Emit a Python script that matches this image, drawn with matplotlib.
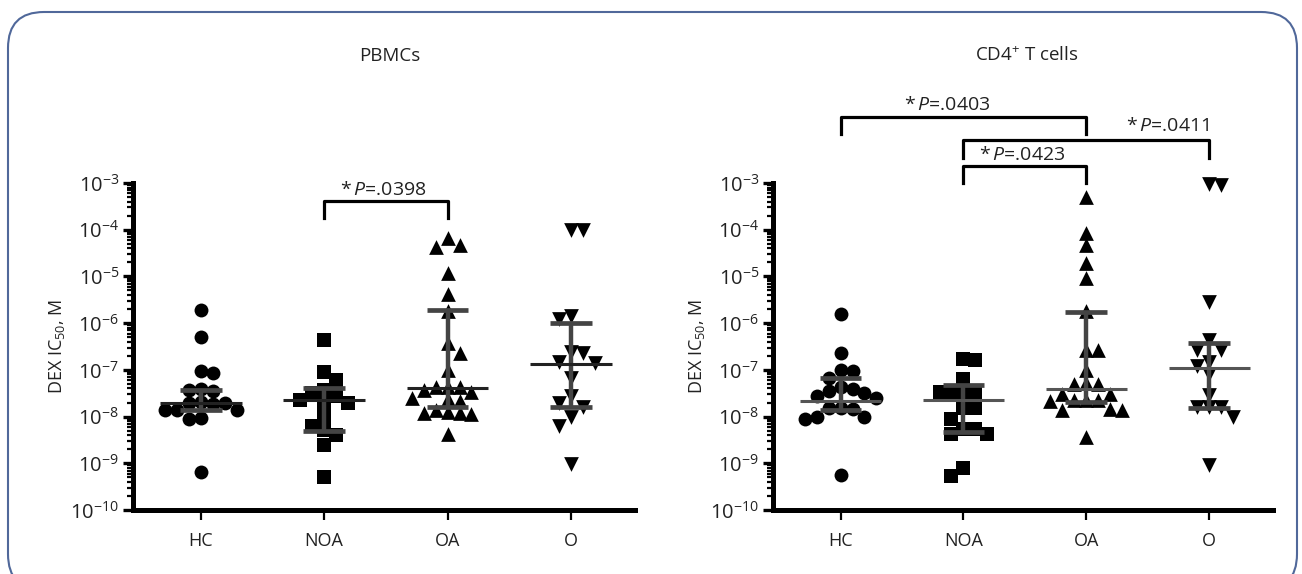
import numpy as np
import matplotlib
matplotlib.use("Agg")
import matplotlib.pyplot as plt
from matplotlib.patches import FancyBboxPatch
from matplotlib.transforms import IdentityTransform
from matplotlib.ticker import LogLocator, NullFormatter

plt.rcParams['font.family'] = ['Open Sans', 'DejaVu Sans']
plt.rcParams['mathtext.fontset'] = 'custom'
plt.rcParams['mathtext.rm'] = 'Open Sans'
plt.rcParams['mathtext.it'] = 'Open Sans:italic'
plt.rcParams['mathtext.default'] = 'regular'

# --- data ---
groups = ['HC', 'NOA', 'OA', 'O']
ytick_vals = [1e-10, 1e-9, 1e-8, 1e-7, 1e-6, 1e-5, 1e-4, 1e-3]
ytick_labels = ['$10^{-10}$', '$10^{-9}$', '$10^{-8}$', '$10^{-7}$',
                '$10^{-6}$', '$10^{-5}$', '$10^{-4}$', '$10^{-3}$']

# PBMCs
pb_hc = [1.9e-6, 5.0e-7, 9.5e-8, 8.5e-8, 3.8e-8, 3.5e-8, 3.7e-8, 2.1e-8, 2.0e-8,
         1.9e-8, 1.95e-8, 1.4e-8, 1.35e-8, 1.4e-8, 9.0e-9, 9.2e-9, 6.5e-10]
pb_noa = [4.4e-7, 8.9e-8, 6.2e-8, 3.7e-8, 3.2e-8, 2.7e-8, 2.3e-8, 1.95e-8, 1.95e-8,
          1.0e-8, 6.2e-9, 5.1e-9, 4.1e-9, 2.5e-9, 5.1e-10]
pb_oa = [6.5e-5, 4.6e-5, 4.3e-5, 1.2e-5, 4.2e-6, 1.8e-6, 3.7e-7, 2.3e-7, 1.0e-7,
         4.4e-8, 4.4e-8, 4.4e-8, 3.7e-8, 3.3e-8, 2.5e-8, 2.4e-8, 2.2e-8, 1.4e-8,
         1.2e-8, 1.2e-8, 1.15e-8, 1.25e-8, 4.2e-9]
pb_o = [1.0e-4, 1.0e-4, 1.45e-6, 1.2e-6, 2.35e-7, 2.4e-7, 1.4e-7, 1.45e-7, 6.6e-8,
        2.7e-8, 2.0e-8, 1.6e-8, 1.0e-8, 6.3e-9, 9.8e-10]
pb_median = [1.95e-8, 2.3e-8, 4.1e-8, 1.35e-7]
pb_q1 = [1.38e-8, 4.9e-9, 1.6e-8, 1.6e-8]
pb_q3 = [3.7e-8, 4.1e-8, 1.9e-6, 1.0e-6]

# CD4+ T cells
cd_hc = [1.6e-6, 2.3e-7, 1.0e-7, 9.5e-8, 6.6e-8, 3.9e-8, 3.2e-8, 3.5e-8, 4.4e-8,
         2.75e-8, 2.5e-8, 1.5e-8, 1.45e-8, 1.55e-8, 1.0e-8, 9.0e-9, 1.0e-8, 5.6e-10]
cd_noa = [1.6e-7, 1.7e-7, 6.3e-8, 3.3e-8, 3.3e-8, 3.3e-8, 3.4e-8, 1.5e-8, 1.5e-8,
          8.9e-9, 5.4e-9, 5.3e-9, 4.2e-9, 4.2e-9, 5.4e-10, 7.8e-10]
cd_oa = [5.1e-4, 8.5e-5, 4.6e-5, 1.9e-5, 9.1e-6, 1.8e-6, 2.7e-7, 2.6e-7, 1.0e-7,
         5.1e-8, 5.3e-8, 5.0e-8, 3.1e-8, 3.0e-8, 2.3e-8, 2.2e-8, 2.3e-8, 2.3e-8,
         1.4e-8, 1.35e-8, 1.45e-8, 3.7e-9]
cd_o = [9.1e-4, 9.3e-4, 2.8e-6, 2.7e-7, 2.6e-7, 4.4e-7, 1.5e-7, 1.2e-7, 8.1e-8,
        2.9e-8, 1.6e-8, 1.6e-8, 1.6e-8, 1.0e-8, 9.1e-10]
cd_median = [2.2e-8, 2.3e-8, 3.9e-8, 1.07e-7]
cd_q1 = [1.4e-8, 4.6e-9, 2.1e-8, 1.5e-8]
cd_q3 = [6.6e-8, 4.8e-8, 1.7e-6, 3.8e-7]

# significance brackets: (group a, group b, label)
pb_sig = [(1, 2, '.0398')]
cd_sig = [(0, 2, '.0403'), (1, 3, '.0411'), (1, 2, '.0423')]

markers = ['o', 's', '^', 'v']
msizes = [10.0, 9.6, 10.6, 10.6]

PX_DEC = 46.7   # pixels per decade
PX_UNIT = 123.5  # pixels per category


def swarm(vals, step=12.0, dmin=12.0):
    y = np.log10(vals) * PX_DEC
    placed = []
    offs = np.zeros(len(y))
    flip = 1
    for idx in np.argsort(-y):
        k = 0
        pos = None
        while pos is None:
            cands = [0] if k == 0 else [flip * k, -flip * k]
            for c in cands:
                x = c * step
                if all(np.hypot(x - px, y[idx] - py) >= dmin for px, py in placed):
                    pos = x
                    break
            k += 1
        if pos != 0:
            flip = -flip
        placed.append((pos, y[idx]))
        offs[idx] = pos / PX_UNIT
    return offs


fig = plt.figure(figsize=(13.02, 5.74), dpi=100)
ax_l = fig.add_axes([133 / 1302, 64 / 574, 502 / 1302, 327 / 574])
ax_r = fig.add_axes([773 / 1302, 64 / 574, 500 / 1302, 327 / 574])


def draw_panel(ax, data, med, q1, q3, medcol):
    for i, vals in enumerate(data):
        xs = i + swarm(vals)
        ax.scatter(xs, vals, marker=markers[i], s=msizes[i] ** 2, color='black',
                   linewidths=0, zorder=3, clip_on=False)
        ax.plot([i, i], [q1[i], q3[i]], color='#444444', lw=3.2,
                solid_capstyle='butt', zorder=4)
        for q in (q1[i], q3[i]):
            ax.plot([i - 0.17, i + 0.17], [q, q], color='#444444', lw=3.4,
                    solid_capstyle='butt', zorder=4)
        ax.plot([i - 0.33, i + 0.33], [med[i], med[i]], color=medcol, lw=2.2,
                solid_capstyle='butt', zorder=5)

    ax.set_yscale('log')
    ax.set_ylim(1e-10, 1e-3)
    ax.set_xlim(-0.55, 3.52)
    ax.set_yticks(ytick_vals)
    ax.set_yticklabels(ytick_labels, fontsize=14.5)
    ax.yaxis.set_minor_locator(LogLocator(base=10, subs=np.arange(2, 10)))
    ax.yaxis.set_minor_formatter(NullFormatter())
    ax.set_xticks(range(len(groups)))
    ax.set_xticklabels(groups, fontsize=13)
    for s in ('top', 'right'):
        ax.spines[s].set_visible(False)
    for s in ('left', 'bottom'):
        ax.spines[s].set_linewidth(3.6)
    ax.tick_params(axis='y', which='major', length=7, width=2.4, pad=3,
                   labelcolor='#222222')
    ax.tick_params(axis='y', which='minor', length=4, width=1.6)
    ax.tick_params(axis='x', which='major', length=7, width=1.6, pad=9,
                   labelcolor='#222222')
    ax.patch.set_visible(False)


draw_panel(ax_l, [pb_hc, pb_noa, pb_oa, pb_o], pb_median, pb_q1, pb_q3, '#222222')
draw_panel(ax_r, [cd_hc, cd_noa, cd_oa, cd_o], cd_median, cd_q1, cd_q3, '#555555')


def bracket(ax, a, b, top, bottom, label, tx, ty, ha='center'):
    ax.plot([a, a, b, b], [10 ** bottom, 10 ** top, 10 ** top, 10 ** bottom],
            color='black', lw=2.3, clip_on=False, zorder=6)
    ax.text(tx, 10 ** ty, r'*$\,\mathit{P}$=' + label, fontsize=14, ha=ha,
            va='baseline', color='#222222', clip_on=False)


a, b, lab = pb_sig[0]
bracket(ax_l, a, b, -3.39, -3.74, lab, 1.48, -3.25)
a, b, lab = cd_sig[0]
bracket(ax_r, a, b, -1.58, -1.96, lab, 0.87, -1.43)
a, b, lab = cd_sig[1]
bracket(ax_r, a, b, -2.09, -2.46, lab, 3.0, -1.88, ha='right')
a, b, lab = cd_sig[2]
bracket(ax_r, a, b, -2.63, -2.99, lab, 1.48, -2.50)

fig.text(390 / 1302, 1 - 56 / 574, 'PBMCs', fontsize=13.5, ha='center', va='center',
         color='#222222')
fig.text(1027 / 1302, 1 - 56 / 574, 'CD4$^{+}$ T cells', fontsize=13.5, ha='center',
         va='center', color='#222222')
for xl in (57, 697):
    fig.text(xl / 1302, 1 - 346 / 574, 'DEX IC$_{50}$, M', fontsize=13, rotation=90,
             ha='center', va='center', color='#222222')

frame = FancyBboxPatch((8, -16), 1289, 578, boxstyle='round,pad=0,rounding_size=36',
                       transform=IdentityTransform(), facecolor='none',
                       edgecolor='#50689a', lw=1.5)
fig.add_artist(frame)

fig.savefig('out.png', dpi=100)
